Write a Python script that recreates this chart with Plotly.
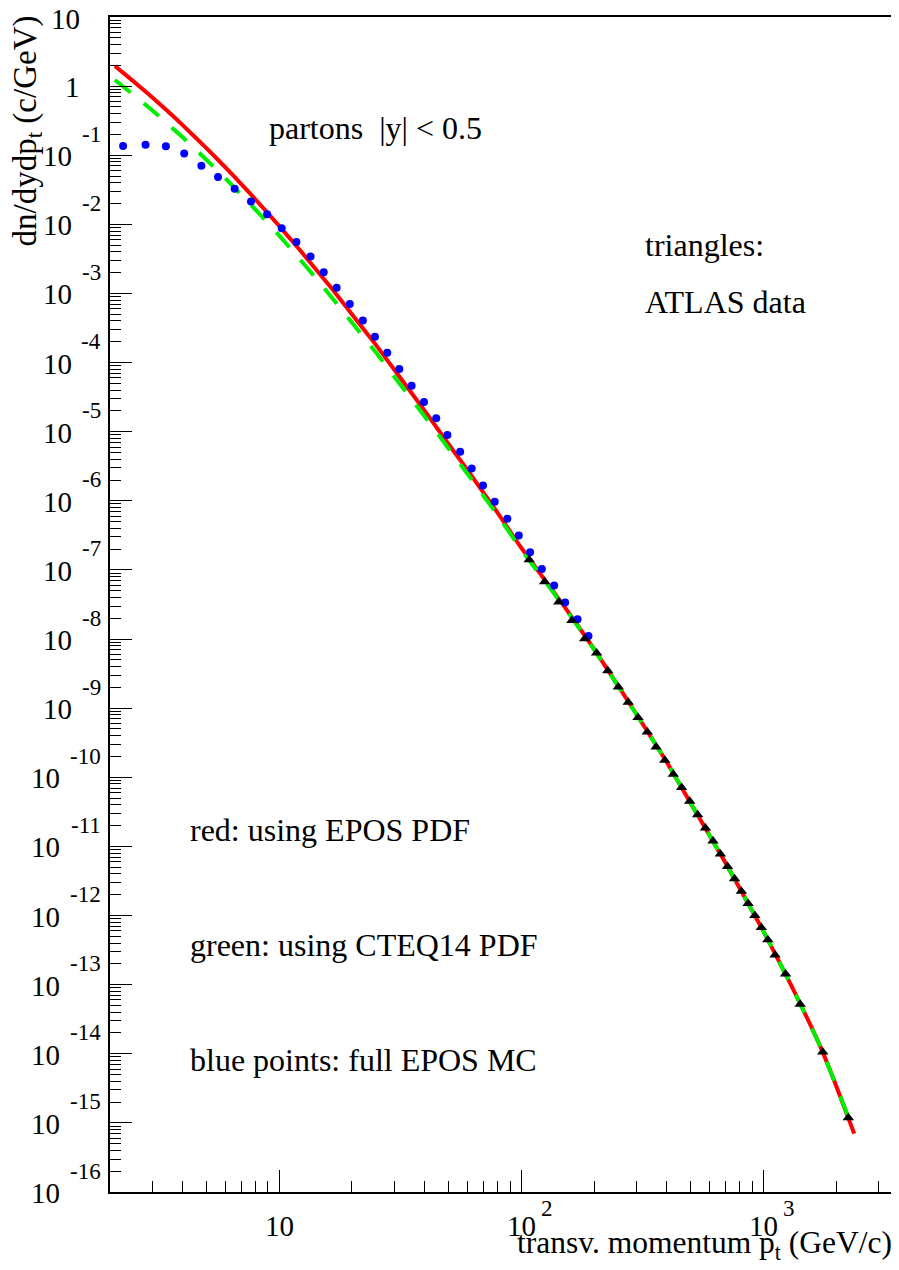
import math
import plotly.graph_objects as go

# ---------------- data ----------------
red_pt = [2.1, 2.5, 3, 3.5, 4, 5, 6, 7, 8, 10, 12, 14, 16.3, 20, 25, 30, 40, 50, 60, 70, 80,
          100, 150, 200, 300, 400, 500, 700, 1000, 1300, 1700, 2000, 2375]
red_val = [1.95, 1.18, 0.684, 0.422, 0.273, 0.1277, 0.067, 0.038, 0.0229, 9.55e-3, 4.54e-3, 2.37e-3,
           1.25e-3, 5.0e-4, 1.85e-4, 7.8e-5, 2.0e-5, 6.7e-6, 2.8e-6, 1.3e-6, 6.7e-7,
           2.1e-7, 3.05e-8, 7.2e-9, 8.1e-10, 1.65e-10, 4.3e-11, 5.7e-12, 6.0e-13, 1.0e-13, 1.4e-14,
           3.45e-15, 7.0e-16]

green_pt = [2.1, 2.5, 3, 3.5, 4, 5, 6, 7, 8, 10, 12, 14, 16.3, 20, 25, 30, 40, 50, 60, 70, 80,
            100, 150, 200, 300, 400, 500, 700, 1000, 1300, 1700, 2000, 2250]
green_val = [1.225, 0.756, 0.444, 0.277, 0.1815, 0.0869, 0.0464, 0.0266, 0.01633, 6.93e-3, 3.34e-3,
             1.77e-3, 9.29e-4, 3.8e-4, 1.44e-4, 6.2e-5, 1.66e-5, 5.8e-6, 2.46e-6, 1.17e-6, 6.2e-7,
             1.98e-7, 2.96e-8, 7.06e-9, 8.0e-10, 1.65e-10, 4.3e-11, 5.7e-12, 6.0e-13, 1.0e-13, 1.4e-14,
             3.5e-15, 1.2e-15]

mc_pt = [2.27, 2.81, 3.41, 4.06, 4.78, 5.6, 6.56, 7.66, 8.93, 10.26, 11.8, 13.5, 15.3, 17.3, 19.6, 22.2,
         24.9, 28.0, 31.4, 35.3, 39.7, 44.6, 49.6, 56.0, 62.5, 69.6, 77.8, 87.7, 97.8, 108.9, 121.8, 136.9,
         152, 171, 189.7]
mc_val = [0.136, 0.142, 0.135, 0.106, 0.0705, 0.0484, 0.0328, 0.0215, 0.0140, 0.00875, 0.00554, 0.00344,
          0.00202, 0.00121, 7.03e-4, 4.08e-4, 2.36e-4, 1.39e-4, 8.05e-5, 4.62e-5, 2.68e-5, 1.56e-5, 8.93e-6,
          5.12e-6, 2.94e-6, 1.67e-6, 9.68e-7, 5.49e-7, 3.16e-7, 1.81e-7, 1.03e-7, 5.97e-8, 3.39e-8, 1.94e-8,
          1.11e-8]

atlas_pt = [108, 125, 143, 162, 183, 205, 228, 252, 277, 304, 332, 361, 392, 425, 460, 497, 536, 577, 620,
            665, 712, 761, 812, 866, 923, 982, 1044, 1119, 1236, 1420, 1761, 2246]
atlas_val = [1.40e-7, 6.73e-8, 3.45e-8, 1.86e-8, 1.01e-8, 6.3e-9, 3.47e-9, 2.03e-9, 1.22e-9, 7.33e-10,
             4.54e-10, 2.75e-10, 1.77e-10, 1.11e-10, 7.12e-11, 4.5e-11, 2.86e-11, 1.85e-11, 1.20e-11,
             7.76e-12, 5.14e-12, 3.40e-12, 2.24e-12, 1.49e-12, 1.00e-12, 6.70e-13, 4.47e-13, 2.69e-13,
             1.42e-13, 5.2e-14, 1.06e-14, 1.19e-15]

x_tick_vals = [10, 100, 1000]
x_tick_exps = ["", "2", "3"]
y_tick_exps = list(range(-16, 2))

# ---------------- figure ----------------
FONT = "Liberation Serif"
OFF = 8                      # page body margin of the html page
W, H = 899 - OFF, 1270 - OFF
ML, MR, MT, MB = 110 - OFF, 5, 17 - OFF, 78
PW = W - ML - MR
PH = H - MT - MB


def px_to_paper_x(px):
    # px measured in page pixels
    return (px - OFF - ML) / PW


def px_to_paper_y(py):
    return 1 - (py - OFF - MT) / PH


fig = go.Figure()

fig.add_trace(go.Scatter(x=red_pt, y=red_val, mode="lines",
                         line=dict(color="#ff0000", width=4, shape="spline", smoothing=0.4),
                         showlegend=False, hoverinfo="skip"))
fig.add_trace(go.Scatter(x=green_pt, y=green_val, mode="lines",
                         line=dict(color="#00ee00", width=4, dash="20px,17px", shape="spline", smoothing=0.4),
                         showlegend=False, hoverinfo="skip"))
fig.add_trace(go.Scatter(x=mc_pt, y=mc_val, mode="markers",
                         marker=dict(color="#0000ff", size=8, symbol="circle"),
                         showlegend=False, hoverinfo="skip"))
fig.add_trace(go.Scatter(x=atlas_pt, y=atlas_val, mode="markers",
                         marker=dict(color="black", size=10, symbol="triangle-up"),
                         showlegend=False, hoverinfo="skip"))

x_minor = [m * 10.0 ** k for k in range(0, 4) for m in range(2, 10) if 2 <= m * 10.0 ** k <= 3500]
y_minor = [m * 10.0 ** k for k in range(-16, 1) for m in range(2, 10)]
y_tick_vals = [10.0 ** e for e in y_tick_exps]

axis_common = dict(showline=True, linecolor="black", linewidth=2, mirror=True,
                   ticks="inside", ticklen=22, tickwidth=1, tickcolor="black",
                   showgrid=False, zeroline=False, automargin=False, showticklabels=False)

fig.update_xaxes(type="log", range=[0.302, 3.540], tickmode="array", tickvals=x_tick_vals,
                 minor=dict(ticks="inside", ticklen=11, tickwidth=1, tickcolor="black",
                            tickmode="array", tickvals=x_minor, showgrid=False),
                 **axis_common)
fig.update_yaxes(type="log", range=[-16, 1], tickmode="array", tickvals=y_tick_vals,
                 minor=dict(ticks="inside", ticklen=11, tickwidth=1, tickcolor="black",
                            tickmode="array", tickvals=y_minor, showgrid=False),
                 **axis_common)

BASE_SIZE = 29
EXP_SIZE = 23

# ROOT-style tick labels: "10" with exponent raised to the upper right
for e in y_tick_exps:
    if e >= 0:
        fig.add_annotation(text="10" if e == 1 else "1", x=px_to_paper_x(82), y=e,
                           xref="paper", yref="y", xanchor="right", yanchor="middle",
                           yshift=-2 if e == 1 else -1, showarrow=False,
                           font=dict(family=FONT, size=BASE_SIZE, color="black"))
        continue
    exp_txt = str(e)
    exp_w = EXP_SIZE * (0.333 + 0.5 * (len(exp_txt) - 1))
    fig.add_annotation(text=exp_txt, x=px_to_paper_x(103), y=e, xref="paper", yref="y",
                       xanchor="right", yanchor="middle", yshift=21, showarrow=False,
                       font=dict(family=FONT, size=EXP_SIZE, color="black"))
    fig.add_annotation(text="10", x=px_to_paper_x(103 - exp_w - 10), y=e, xref="paper", yref="y",
                       xanchor="right", yanchor="middle", yshift=-1, showarrow=False,
                       font=dict(family=FONT, size=BASE_SIZE, color="black"))

for v, ex in zip(x_tick_vals, x_tick_exps):
    fig.add_annotation(text="10", x=math.log10(v), y=px_to_paper_y(1226), xref="x", yref="paper",
                       xanchor="center", yanchor="middle", showarrow=False,
                       font=dict(family=FONT, size=BASE_SIZE, color="black"))
    if ex:
        fig.add_annotation(text=ex, x=math.log10(v), y=px_to_paper_y(1208), xref="x", yref="paper",
                           xanchor="left", yanchor="middle", xshift=18, showarrow=False,
                           font=dict(family=FONT, size=EXP_SIZE, color="black"))

txt_font = dict(family=FONT, size=32, color="black")
notes = [
    ("partons\u00a0\u00a0|y| < 0.5", 267, 128),
    ("triangles:", 643, 245),
    ("ATLAS data", 643, 302),
    ("red: using EPOS PDF", 188, 830),
    ("green: using CTEQ14 PDF", 188, 945),
    ("blue points: full EPOS MC", 188, 1060),
]
for t, xpx, ypx in notes:
    fig.add_annotation(text=t, x=px_to_paper_x(xpx), y=px_to_paper_y(ypx), xref="paper", yref="paper",
                       xanchor="left", yanchor="middle", showarrow=False, font=txt_font)

# axis titles (ROOT style, right/top aligned)
fig.add_annotation(text="transv. momentum p<sub>t</sub> (GeV/c)", x=px_to_paper_x(894), y=px_to_paper_y(1245),
                   xref="paper", yref="paper", xanchor="right", yanchor="middle",
                   showarrow=False, font=dict(family=FONT, size=31.5, color="black"))
fig.add_annotation(text="dn/dydp<sub>t</sub> (c/GeV)", x=px_to_paper_x(27), y=px_to_paper_y(14),
                   xref="paper", yref="paper", xanchor="center", yanchor="top", textangle=-90,
                   showarrow=False, font=dict(family=FONT, size=33, color="black"))

fig.update_layout(width=W, height=H, margin=dict(l=ML, r=MR, t=MT, b=MB),
                  plot_bgcolor="white", paper_bgcolor="white", showlegend=False)

fig.write_html("out.html")
